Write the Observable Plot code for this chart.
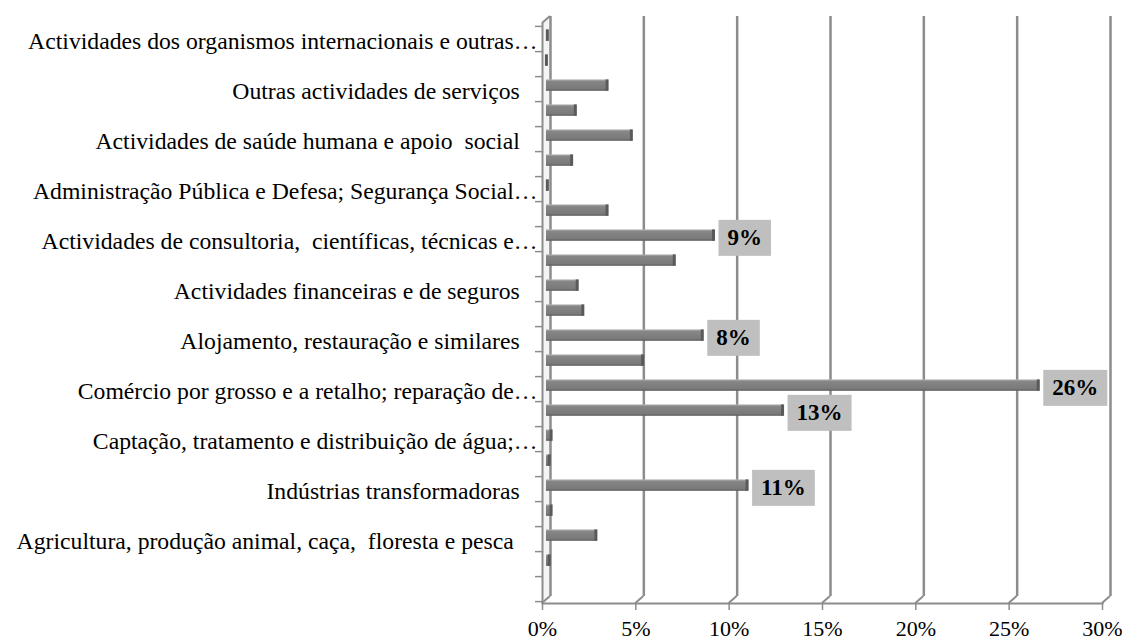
<!DOCTYPE html>
<html>
<head>
<meta charset="utf-8">
<script src="https://cdn.jsdelivr.net/npm/d3@7"></script>
<script src="https://cdn.jsdelivr.net/npm/@observablehq/plot@0.6"></script>
<style>
html, body { margin: 0; padding: 0; background: #fff; }
#chart svg { display: block; }
#chart svg, #chart svg text { font-family: "Liberation Serif", "Times New Roman", Times, serif !important; white-space: pre; }
</style>
</head>
<body>
<div id="chart"></div>
<script>
// Categories listed bottom -> top (Excel order); labels shown on every other row
const categories = [
  "",
  "Sem informação",
  "Agricultura, produção animal, caça,  floresta e pesca    ",
  "Indústrias extractivas",
  "Indústrias transformadoras   ",
  "Electricidade, gás, vapor, água quente e fria e ar frio",
  "Captação, tratamento e distribuição de água;…",
  "Construção",
  "Comércio por grosso e a retalho; reparação de…",
  "Transportes e armazenagem",
  "Alojamento, restauração e similares   ",
  "Actividades de informação e de comunicação",
  "Actividades financeiras e de seguros   ",
  "Actividades imobiliárias",
  "Actividades de consultoria,  científicas, técnicas e…",
  "Actividades administrativas e dos serviços de apoio",
  "Administração Pública e Defesa; Segurança Social…",
  "Educação",
  "Actividades de saúde humana e apoio  social   ",
  "Actividades artísticas, de espectáculos, desportivas e recreativas",
  "Outras actividades de serviços   ",
  "Actividades das famílias empregadoras de pessoal doméstico",
  "Actividades dos organismos internacionais e outras…"
];
const shares = [
  0, 0.2, 2.7, 0.3, 10.8, 0.2, 0.3, 12.7, 26.4, 5.2, 8.4, 2.0,
  1.7, 6.9, 9.0, 3.3, 0.1, 1.4, 4.6, 1.6, 3.3, 0.05, 0.1
];
const labelCategories = [
  "Indústrias transformadoras   ",
  "Construção",
  "Comércio por grosso e a retalho; reparação de…",
  "Alojamento, restauração e similares   ",
  "Actividades de consultoria,  científicas, técnicas e…"
];
const labelTexts = ["11%", "13%", "26%", "8%", "9%"];
const xTicks = [0, 5, 10, 15, 20, 25, 30];

const W = 1122, H = 640, mL = 542, mR = 20, mT = 23, mB = 37;
const step = (H - mT - mB) / categories.length;
const depthX = 8, depthY = -7;
const barInset = 6.8, barDx = 4, barDy = -3.4;
const gridColor = "#8c8c8c";

const data = categories.map((c, i) => ({category: c, share: shares[i]}));
const labelled = labelCategories.map((c, k) => ({
  category: c,
  share: shares[categories.indexOf(c)],
  text: labelTexts[k]
}));
const shown = new Set(categories.filter((c, i) => i % 2 === 0));

function wallAndFloor(index, scales, values, dims) {
  const g = d3.create("svg:g");
  const yb = dims.height - dims.marginBottom;
  const yt = dims.marginTop;
  const x0 = scales.x(0);
  g.append("polygon")
    .attr("points", [[x0, yt], [x0 + depthX, yt + depthY], [x0 + depthX, yb + depthY], [x0, yb]].join(" "))
    .attr("fill", "#f4f4f4");
  const lines = g.append("g").attr("stroke", gridColor).attr("stroke-width", 2).attr("fill", "none");
  for (const t of xTicks) {
    const x = scales.x(t);
    lines.append("line").attr("x1", x).attr("y1", yb).attr("x2", x + depthX).attr("y2", yb + depthY);
  }
  lines.append("line").attr("x1", x0).attr("y1", yt).attr("x2", x0 + depthX).attr("y2", yt + depthY);
  return g.node();
}

const chart = Plot.plot({
  width: W,
  height: H,
  marginLeft: mL,
  marginRight: mR,
  marginTop: mT,
  marginBottom: mB,
  style: {fontFamily: "Liberation Serif", fontSize: "23.7px", color: "#000", background: "#fff", overflow: "visible"},
  x: {domain: [0, 30]},
  y: {domain: categories, reverse: true, padding: 0},
  marks: [
    wallAndFloor,
    Plot.ruleX(xTicks, {x: d => d, dx: depthX, dy: depthY, stroke: gridColor, strokeWidth: 2.5}),
    Plot.ruleX([0], {stroke: gridColor, strokeWidth: 2}),
    Plot.frame({anchor: "bottom", stroke: gridColor, strokeWidth: 2}),
    Plot.axisY({tickSize: 7, tickFormat: () => "", dy: step / 2, stroke: gridColor, strokeWidth: 1.5, label: null}),
    Plot.axisY([categories[categories.length - 1]], {tickSize: 7, tickFormat: () => "", dy: -step / 2, stroke: gridColor, strokeWidth: 1.5, label: null}),
    Plot.axisY({tickSize: 0, tickPadding: 5, tickFormat: d => shown.has(d) ? d : "", fontSize: 23.7, dy: 2, label: null}),
    Plot.axisX(xTicks, {tickSize: 7, tickPadding: 10, tickFormat: d => d + "%", fontSize: 22, stroke: gridColor, strokeWidth: 1.5, label: null}),
    Plot.barX(data, {y: "category", x: "share", fill: "url(#barGrad)", insetTop: barInset, insetBottom: barInset, dx: barDx, dy: barDy}),
    Plot.tickX(data, {filter: d => d.share > 0, y: "category", x: "share", stroke: "#5a5a5a", strokeWidth: 3, insetTop: barInset, insetBottom: barInset, dx: barDx - 1, dy: barDy}),
    Plot.text(labelled, {y: "category", x: "share", text: "text", textAnchor: "start", dx: barDx + 4 + 9, dy: -1, fontWeight: "bold", fontSize: 23, fill: "#000"})
  ]
});

const svg = d3.select(chart);
const grad = svg.insert("defs", ":first-child").append("linearGradient")
  .attr("id", "barGrad").attr("x1", 0).attr("y1", 0).attr("x2", 0).attr("y2", 1);
grad.append("stop").attr("offset", "0%").attr("stop-color", "#b4b4b4");
grad.append("stop").attr("offset", "18%").attr("stop-color", "#868686");
grad.append("stop").attr("offset", "80%").attr("stop-color", "#7a7a7a");
grad.append("stop").attr("offset", "100%").attr("stop-color", "#5c5c5c");

document.getElementById("chart").appendChild(chart);

// grey boxes behind the value labels
chart.querySelectorAll('g[aria-label="text"] text').forEach(t => {
  const b = t.getBBox();
  const r = document.createElementNS("http://www.w3.org/2000/svg", "rect");
  const cy = b.y + b.height / 2;
  r.setAttribute("x", b.x - 9);
  r.setAttribute("y", cy - 18);
  r.setAttribute("width", b.width + 18);
  r.setAttribute("height", 36);
  r.setAttribute("fill", "#bfbfbf");
  if (t.getAttribute("transform")) r.setAttribute("transform", t.getAttribute("transform"));
  t.parentNode.insertBefore(r, t);
});
</script>
</body>
</html>
